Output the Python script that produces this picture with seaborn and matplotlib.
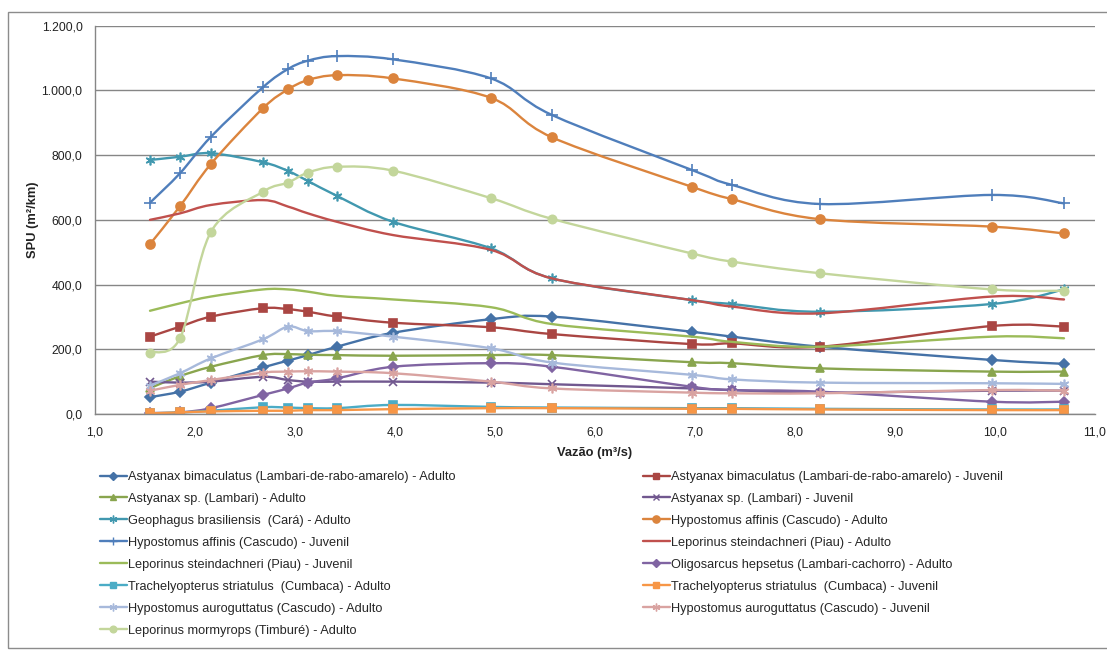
import numpy as np
import pandas as pd
import matplotlib
matplotlib.use("Agg")
import matplotlib.pyplot as plt
import seaborn as sns
from matplotlib.path import Path
from matplotlib.patches import PathPatch, Rectangle
from matplotlib.lines import Line2D
from matplotlib.ticker import FuncFormatter, MultipleLocator

# Discharge values (m³/s)
vazao = [1.55, 1.85, 2.16, 2.68, 2.93, 3.13, 3.42, 3.98, 4.96, 5.57, 6.97, 7.37, 8.25, 9.97, 10.69]

# SPU (m²/km) per species / life stage
astyanax_bim_adulto = [52, 69, 97, 144, 165, 182, 208, 251, 293, 301, 254, 239, 208, 167, 155]
astyanax_bim_juvenil = [239, 270, 301, 327, 324, 316, 301, 282, 268, 247, 216, 218, 208, 272, 270]
astyanax_sp_adulto = [80, 117, 146, 182, 185, 183, 182, 180, 182, 182, 160, 157, 141, 131, 131]
astyanax_sp_juvenil = [100, 97, 100, 115, 105, 100, 100, 100, 97, 92, 79, 74, 66, 72, 72]
geophagus_adulto = [785, 795, 806, 778, 751, 720, 674, 594, 512, 419, 352, 340, 316, 340, 385]
hyp_affinis_adulto = [525, 642, 773, 945, 1003, 1032, 1047, 1037, 977, 855, 702, 664, 602, 579, 558]
hyp_affinis_juvenil = [653, 744, 857, 1010, 1066, 1092, 1106, 1096, 1037, 924, 754, 708, 649, 677, 651]
lep_stein_adulto = [600, 620, 646, 661, 641, 620, 594, 553, 507, 419, 352, 332, 311, 363, 354]
lep_stein_juvenil = [319, 342, 363, 385, 385, 378, 365, 354, 330, 278, 239, 223, 208, 239, 234]
oligosarcus_adulto = [3, 5, 18, 59, 79, 97, 110, 146, 157, 146, 84, 74, 69, 38, 38]
trach_adulto = [2, 5, 10, 21, 20, 18, 18, 28, 22, 20, 18, 18, 16, 14, 14]
trach_juvenil = [2, 5, 8, 10, 10, 12, 12, 15, 18, 18, 16, 16, 14, 12, 12]
hyp_auro_adulto = [88, 126, 172, 231, 270, 256, 256, 239, 203, 159, 121, 107, 97, 95, 93]
hyp_auro_juvenil = [72, 90, 105, 128, 131, 132, 131, 126, 100, 79, 66, 64, 64, 74, 72]
lep_mormyrops_adulto = [190, 234, 563, 687, 715, 746, 764, 752, 667, 603, 496, 471, 435, 385, 381]

series_labels = [
    "Astyanax bimaculatus (Lambari-de-rabo-amarelo) - Adulto",
    "Astyanax bimaculatus (Lambari-de-rabo-amarelo) - Juvenil",
    "Astyanax sp. (Lambari) - Adulto",
    "Astyanax sp. (Lambari) - Juvenil",
    "Geophagus brasiliensis  (Cará) - Adulto",
    "Hypostomus affinis (Cascudo) - Adulto",
    "Hypostomus affinis (Cascudo) - Juvenil",
    "Leporinus steindachneri (Piau) - Adulto",
    "Leporinus steindachneri (Piau) - Juvenil",
    "Oligosarcus hepsetus (Lambari-cachorro) - Adulto",
    "Trachelyopterus striatulus  (Cumbaca) - Adulto",
    "Trachelyopterus striatulus  (Cumbaca) - Juvenil",
    "Hypostomus auroguttatus (Cascudo) - Adulto",
    "Hypostomus auroguttatus (Cascudo) - Juvenil",
    "Leporinus mormyrops (Timburé) - Adulto",
]
series_values = [
    astyanax_bim_adulto, astyanax_bim_juvenil, astyanax_sp_adulto, astyanax_sp_juvenil,
    geophagus_adulto, hyp_affinis_adulto, hyp_affinis_juvenil, lep_stein_adulto,
    lep_stein_juvenil, oligosarcus_adulto, trach_adulto, trach_juvenil,
    hyp_auro_adulto, hyp_auro_juvenil, lep_mormyrops_adulto,
]

colors = ["#4572A7", "#AA4643", "#89A54E", "#71588F", "#4198AF", "#DB843D", "#4F7EBB",
          "#C0504D", "#9BBB59", "#8064A2", "#4BACC6", "#F79646", "#A7B9DB", "#D9A3A1", "#C3D69B"]
STAR = (6, 2, 0)
markers = ["D", "s", "^", "x", STAR, "o", "+", None, None, "D", "s", "s", STAR, STAR, "o"]
msizes = [5, 6, 6, 6, 7, 6.5, 8, 0, 0, 5, 6, 6, 7, 7, 6]

df = pd.DataFrame({
    "serie": np.repeat(series_labels, len(vazao)),
    "vazao": np.tile(vazao, len(series_labels)),
    "spu": np.concatenate(series_values),
})

sns.set_theme(style="white")
plt.rcParams["font.family"] = ["Liberation Sans", "DejaVu Sans"]

fig = plt.figure(figsize=(11.07, 6.5), dpi=100)
ax = fig.add_axes([95 / 1107, 1 - 414 / 650, 1000 / 1107, (414 - 25.7) / 650])


def smooth_path(x, y):
    """Cubic Bezier path through the points (Catmull-Rom style smoothing)."""
    pts = np.column_stack([x, y]).astype(float)
    n = len(pts)
    verts = [pts[0]]
    codes = [Path.MOVETO]
    for i in range(n - 1):
        p0 = pts[i - 1] if i > 0 else pts[i]
        p1 = pts[i]
        p2 = pts[i + 1]
        p3 = pts[i + 2] if i + 2 < n else pts[i + 1]
        c1 = p1 + (p2 - p0) / 6.0
        c2 = p2 - (p3 - p1) / 6.0
        verts += [c1, c2, p2]
        codes += [Path.CURVE4] * 3
    return Path(verts, codes)


handles = []
for i, lab in enumerate(series_labels):
    sub = df[df["serie"] == lab]
    z = 2 + i * 0.02
    ax.add_patch(PathPatch(smooth_path(sub["vazao"], sub["spu"]), facecolor="none",
                           edgecolor=colors[i], lw=1.7, zorder=z, capstyle="round",
                           joinstyle="round"))
    if markers[i] is not None:
        sns.lineplot(data=sub, x="vazao", y="spu", ax=ax, color=colors[i], lw=0,
                     marker=markers[i], markersize=msizes[i], markeredgecolor=colors[i],
                     markeredgewidth=1.2, legend=False, zorder=z + 0.01)
    handles.append(Line2D([], [], color=colors[i], lw=1.7, marker=markers[i],
                          markersize=msizes[i] * 0.8, markeredgecolor=colors[i],
                          markeredgewidth=1.0))

ax.set_xlim(1, 11)
ax.set_ylim(0, 1200)
ax.xaxis.set_major_locator(MultipleLocator(1))
ax.yaxis.set_major_locator(MultipleLocator(200))


def br(v, pos=None):
    s = f"{v:,.1f}"
    return s.replace(",", "X").replace(".", ",").replace("X", ".")


ax.xaxis.set_major_formatter(FuncFormatter(br))
ax.yaxis.set_major_formatter(FuncFormatter(br))
ax.tick_params(axis="both", labelsize=8.7, length=3, width=0.8, direction="out", pad=6,
               colors="#868686", labelcolor="#222222")
ax.yaxis.grid(True, color="#868686", lw=1.0)
ax.xaxis.grid(False)
for side in ["top", "right"]:
    ax.spines[side].set_visible(False)
for side in ["left", "bottom"]:
    ax.spines[side].set_color("#868686")
    ax.spines[side].set_linewidth(1.0)

ax.set_xlabel("Vazão (m³/s)", fontsize=9.3, fontweight="bold", labelpad=6, color="#222222")
ax.set_ylabel("SPU (m²/km)", fontsize=9.3, fontweight="bold", labelpad=2, color="#222222")

# Two legend columns, laid out row by row
leg_kw = dict(frameon=False, fontsize=9.2, handlelength=2.1, handletextpad=0.1,
              labelspacing=0.78, borderaxespad=0, borderpad=0)
left = fig.legend(handles[0::2], series_labels[0::2], loc="upper left",
                  bbox_to_anchor=(100 / 1107, 1 - 471 / 650), **leg_kw)
right = fig.legend(handles[1::2], series_labels[1::2], loc="upper left",
                   bbox_to_anchor=(643 / 1107, 1 - 471 / 650), **leg_kw)

# Chart frame
fig.add_artist(Rectangle((8 / 1107, 2 / 650), 1.2, 1 - 14 / 650, transform=fig.transFigure,
                         fill=False, edgecolor="#8c8c8c", lw=1.0))

fig.savefig("out.png", dpi=100)
